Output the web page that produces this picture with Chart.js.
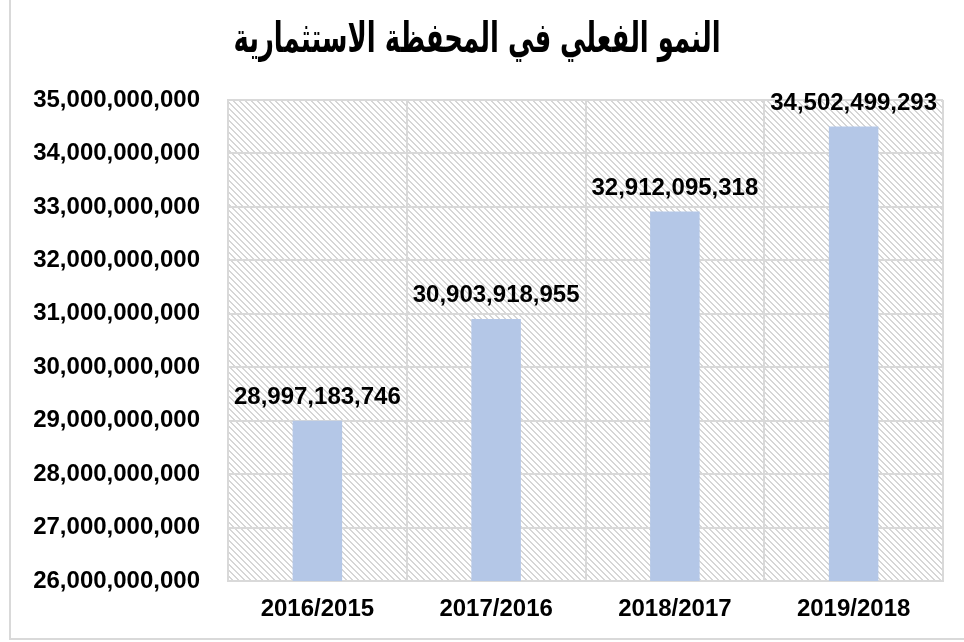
<!DOCTYPE html>
<html>
<head>
<meta charset="utf-8">
<script src="https://cdn.jsdelivr.net/npm/chart.js@4/dist/chart.umd.min.js"></script>
<style>
html,body{margin:0;padding:0;background:#fff;}
#wrap{width:964px;height:642px;position:relative;}
</style>
</head>
<body>
<div id="wrap"><canvas id="c" width="964" height="642"></canvas></div>
<script>
const titleText = "النمو الفعلي في المحفظة الاستثمارية";
const categories = ["2016/2015", "2017/2016", "2018/2017", "2019/2018"];
const values = [28997183746, 30903918955, 32912095318, 34502499293];
const yMin = 26000000000;
const yMax = 35000000000;
const yStep = 1000000000;

const FONT = "'Liberation Sans', Arial, 'DejaVu Sans', sans-serif";
const fmt = v => Math.round(v).toLocaleString('en-US');

function makeHatch(ctx) {
  const t = document.createElement('canvas');
  t.width = 6; t.height = 6;
  const g = t.getContext('2d');
  g.fillStyle = '#ffffff';
  g.fillRect(0, 0, 6, 6);
  g.fillStyle = '#d6d6d6';
  for (let i = 0; i < 6; i++) {
    g.fillRect(i, i, 1, 1);
    g.fillRect((i + 1) % 6, i, 1, 1);
  }
  return ctx.createPattern(t, 'repeat');
}

const bgPlugin = {
  id: 'bg',
  beforeDraw(chart) {
    const ctx = chart.ctx;
    const a = chart.chartArea;
    ctx.save();
    ctx.fillStyle = '#ffffff';
    ctx.fillRect(0, 0, chart.width, chart.height);
    ctx.fillStyle = makeHatch(ctx);
    ctx.fillRect(a.left, a.top, a.right - a.left, a.bottom - a.top);
    // outer frame
    ctx.strokeStyle = '#d9d9d9';
    ctx.lineWidth = 2;
    ctx.beginPath();
    ctx.moveTo(10, 0);
    ctx.lineTo(10, 639);
    ctx.lineTo(964, 639);
    ctx.stroke();
    // title
    ctx.fillStyle = '#000';
    ctx.font = "bold 42px 'DejaVu Sans Condensed', 'DejaVu Sans', sans-serif";
    ctx.textAlign = 'center';
    ctx.textBaseline = 'middle';
    ctx.direction = 'rtl';
    const w = ctx.measureText(titleText).width;
    const sx = Math.min(1, 487 / w);
    ctx.translate(477, 41);
    ctx.scale(sx, 1);
    ctx.fillText(titleText, 0, 0);
    ctx.restore();
  }
};

const labelPlugin = {
  id: 'vals',
  afterDatasetsDraw(chart) {
    const ctx = chart.ctx;
    const meta = chart.getDatasetMeta(0);
    ctx.save();
    ctx.fillStyle = '#000';
    ctx.font = "bold 24px " + FONT;
    ctx.textAlign = 'center';
    ctx.textBaseline = 'alphabetic';
    meta.data.forEach((bar, i) => {
      ctx.fillText(fmt(values[i]), bar.x, bar.y - 17);
    });
    ctx.restore();
  }
};

new Chart(document.getElementById('c'), {
  type: 'bar',
  data: {
    labels: categories,
    datasets: [{
      data: values,
      backgroundColor: '#B4C7E7',
      borderWidth: 0,
      barPercentage: 0.277,
      categoryPercentage: 1.0
    }]
  },
  options: {
    responsive: false,
    animation: false,
    devicePixelRatio: 1,
    layout: { padding: { left: 0, right: 21, top: 100, bottom: 0 } },
    plugins: {
      legend: { display: false },
      title: { display: false },
      tooltip: { enabled: false }
    },
    scales: {
      x: {
        offset: true,
        grid: { color: '#d9d9d9', lineWidth: 2, drawTicks: false, offset: true },
        border: { color: '#d9d9d9', width: 2 },
        ticks: {
          color: '#000',
          font: { family: FONT, size: 24, weight: 'bold' },
          padding: 14
        },
        afterFit(s) { s.height = 61; }
      },
      y: {
        min: yMin,
        max: yMax,
        grid: { color: '#d9d9d9', lineWidth: 2, drawTicks: false },
        border: { color: '#d9d9d9', width: 2 },
        ticks: {
          stepSize: yStep,
          color: '#000',
          font: { family: FONT, size: 24, weight: 'bold' },
          padding: 28,
          callback: v => fmt(v)
        },
        afterFit(s) { s.width = 228; }
      }
    }
  },
  plugins: [bgPlugin, labelPlugin]
});
</script>
</body>
</html>
